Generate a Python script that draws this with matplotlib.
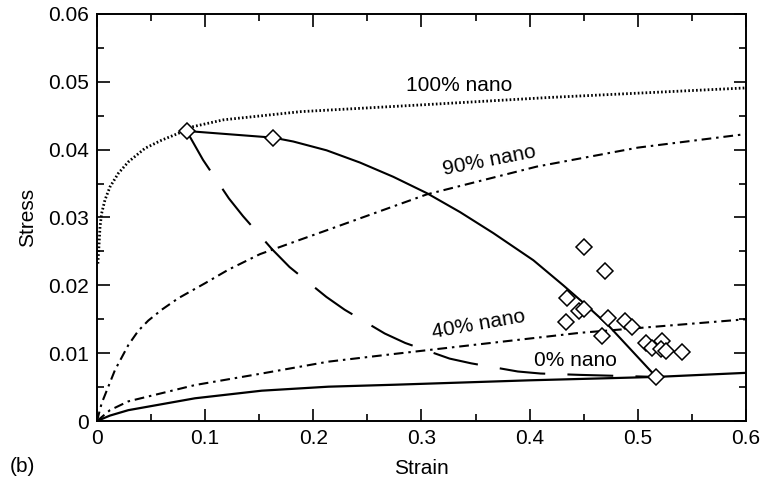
import matplotlib
matplotlib.use("Agg")
import matplotlib.pyplot as plt
from matplotlib.ticker import MultipleLocator

# stress-strain curves for each nano fraction
strain_100 = [0.0008, 0.0018, 0.0028, 0.0043, 0.0074, 0.012, 0.0197, 0.029, 0.0444,
              0.0598, 0.0752, 0.089, 0.117, 0.188, 0.3, 0.419, 0.6]
stress_100 = [0.0232, 0.0257, 0.0286, 0.0306, 0.0326, 0.0345, 0.0365, 0.0382, 0.0402,
              0.0414, 0.0424, 0.0434, 0.0444, 0.0456, 0.0466, 0.0477, 0.0491]

strain_90 = [0, 0.0043, 0.0166, 0.029, 0.0382, 0.0474, 0.0598, 0.0752, 0.0998, 0.1214,
             0.1507, 0.1892, 0.2139, 0.3048, 0.4065, 0.5, 0.6]
stress_90 = [0, 0.0026, 0.0075, 0.0112, 0.0133, 0.0148, 0.0164, 0.0181, 0.0203, 0.0223,
             0.0246, 0.0268, 0.0282, 0.0334, 0.0375, 0.0403, 0.0423]

strain_40 = [0, 0.012, 0.029, 0.0906, 0.1523, 0.2139, 0.2755, 0.4465, 0.6]
stress_40 = [0, 0.0016, 0.0029, 0.0053, 0.0070, 0.00875, 0.0099, 0.0130, 0.0150]

strain_0 = [0, 0.012, 0.029, 0.0906, 0.1523, 0.2139, 0.2755, 0.4, 0.517, 0.6]
stress_0 = [0, 0.0008, 0.0016, 0.00335, 0.00447, 0.00506, 0.00535, 0.0060, 0.0065, 0.0071]

# transition paths between the 100% and 0% curves
strain_path = [0.0829, 0.163, 0.1815, 0.2123, 0.2431, 0.2739, 0.3048, 0.3356, 0.3664,
               0.4034, 0.4311, 0.4527, 0.4727, 0.5168]
stress_path = [0.04275, 0.04177, 0.0412, 0.0399, 0.0381, 0.0360, 0.0336, 0.0308,
               0.0277, 0.0237, 0.0200, 0.0170, 0.0141, 0.00653]

strain_dash = [0.0829, 0.098, 0.122, 0.135, 0.162, 0.178, 0.212, 0.229, 0.266, 0.285,
               0.326, 0.346, 0.389, 0.41, 0.4465, 0.5168]
stress_dash = [0.04275, 0.0385, 0.0328, 0.0302, 0.0253, 0.0227, 0.0183, 0.0164, 0.0129,
               0.0115, 0.0092, 0.0085, 0.0073, 0.0070, 0.0068, 0.0065]

# measured points
strain_exp = [0.0829, 0.163, 0.4505, 0.4696, 0.4348, 0.4459, 0.4502, 0.4336, 0.4721,
              0.4881, 0.4949, 0.4671, 0.5073, 0.5128, 0.5220, 0.5211, 0.5257, 0.5411,
              0.5168]
stress_exp = [0.04275, 0.04177, 0.0257, 0.02216, 0.01809, 0.01626, 0.01651, 0.01464,
              0.01514, 0.01479, 0.01381, 0.01253, 0.01145, 0.01072, 0.01179, 0.01057,
              0.01036, 0.01013, 0.00653]

x_ticks = [0, 0.1, 0.2, 0.3, 0.4, 0.5, 0.6]
x_labels = ['0', '0.1', '0.2', '0.3', '0.4', '0.5', '0.6']
y_ticks = [0, 0.01, 0.02, 0.03, 0.04, 0.05, 0.06]
y_labels = ['0', '0.01', '0.02', '0.03', '0.04', '0.05', '0.06']

plt.rcParams['font.family'] = ['Liberation Sans', 'DejaVu Sans']
plt.rcParams['lines.scale_dashes'] = False

fig = plt.figure(figsize=(7.66, 4.87), dpi=100)
ax = fig.add_axes([0.1266, 0.1355, 0.8473, 0.8358])

ax.plot(strain_100, stress_100, color='black', lw=2.0, ls=(0, (1.2, 1.6)))
ax.plot(strain_90, stress_90, color='black', lw=1.5, ls=(0, (7, 3.5, 1.8, 3.5)))
ax.plot(strain_40, stress_40, color='black', lw=1.5, ls=(0, (7, 3.5, 1.8, 3.5)))
ax.plot(strain_0, stress_0, color='black', lw=1.6)
ax.plot(strain_path, stress_path, color='black', lw=1.5)
ax.plot(strain_dash, stress_dash, color='black', lw=1.5, ls=(0, (33, 16)))
ax.plot(strain_exp, stress_exp, ls='none', marker='D', ms=8, mfc='white',
        mec='black', mew=1.1, zorder=5)

ax.text(0.3347, 0.0495, '100% nano', fontsize=15, ha='center', va='center')
ax.text(0.3624, 0.0384, '90% nano', fontsize=15, ha='center', va='center',
        rotation=11, rotation_mode='anchor')
ax.text(0.3525, 0.0143, '40% nano', fontsize=15, ha='center', va='center',
        rotation=10, rotation_mode='anchor')
ax.text(0.4426, 0.0089, '0% nano', fontsize=15, ha='center', va='center')

ax.set_xlim(0, 0.6)
ax.set_ylim(0, 0.06)
ax.set_xticks(x_ticks, x_labels)
ax.set_yticks(y_ticks, y_labels)
ax.xaxis.set_minor_locator(MultipleLocator(0.05))
ax.yaxis.set_minor_locator(MultipleLocator(0.005))
ax.tick_params(which='both', direction='in', top=True, right=True, labelsize=15,
               width=1.2, pad=6)
ax.tick_params(which='major', length=9)
ax.tick_params(which='minor', length=5)
for s in ax.spines.values():
    s.set_linewidth(1.4)

ax.set_xlabel('Strain', fontsize=15, labelpad=8)
ax.set_ylabel('Stress', fontsize=15, labelpad=8)
fig.text(0.029, 0.043, '(b)', fontsize=15, ha='center', va='center')

fig.savefig('out.png', dpi=100)
